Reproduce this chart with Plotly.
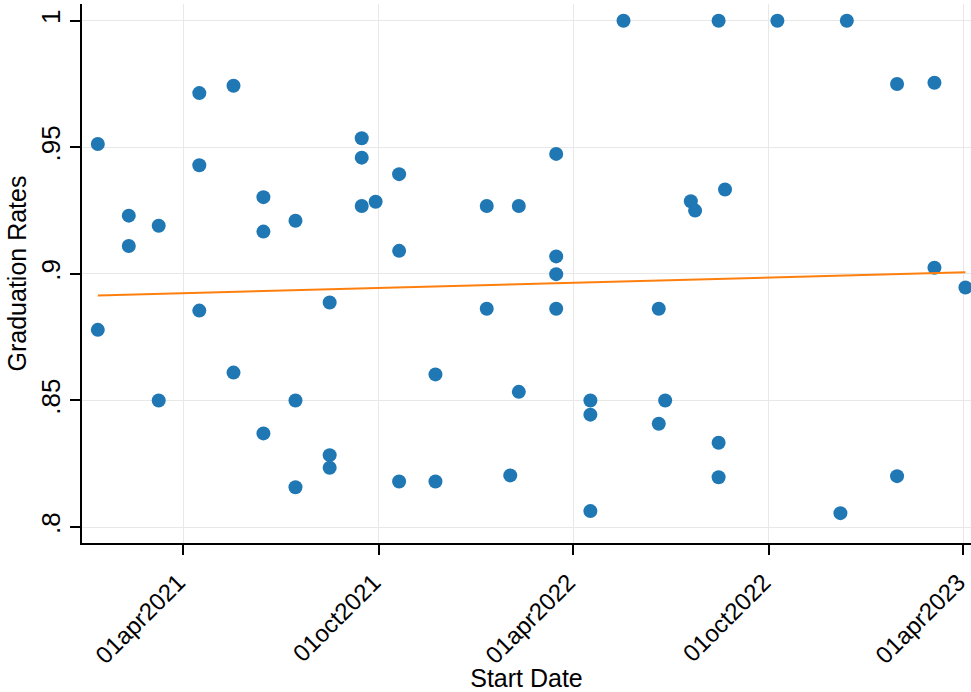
import plotly.graph_objects as go

start_dates = [
    "2021-01-11", "2021-01-11", "2021-02-09", "2021-02-09", "2021-03-09", "2021-03-09",
    "2021-04-16", "2021-04-16", "2021-04-16", "2021-05-18", "2021-05-18",
    "2021-06-15", "2021-06-15", "2021-06-15", "2021-07-15", "2021-07-15", "2021-07-15",
    "2021-08-16", "2021-08-16", "2021-08-16", "2021-09-15", "2021-09-15", "2021-09-15",
    "2021-09-28", "2021-10-20", "2021-10-20", "2021-10-20", "2021-11-23", "2021-11-23",
    "2022-01-10", "2022-01-10", "2022-02-01", "2022-02-09", "2022-02-09",
    "2022-03-16", "2022-03-16", "2022-03-16", "2022-03-16",
    "2022-04-17", "2022-04-17", "2022-04-17", "2022-05-18",
    "2022-06-20", "2022-06-26", "2022-06-20", "2022-07-20", "2022-07-24",
    "2022-08-15", "2022-08-15", "2022-08-15", "2022-08-21",
    "2022-10-09", "2022-12-13", "2022-12-07",
    "2023-01-29", "2023-01-29", "2023-03-05", "2023-03-05", "2023-04-03",
]
grad_rates = [
    0.9513, 0.8779, 0.923, 0.911, 0.919, 0.85,
    0.9714, 0.9429, 0.8855, 0.9743, 0.861,
    0.9303, 0.9167, 0.837, 0.921, 0.85, 0.8157,
    0.8887, 0.8284, 0.8234, 0.9536, 0.9459, 0.9268,
    0.9285, 0.9394, 0.9091, 0.818, 0.8603, 0.818,
    0.9268, 0.8862, 0.8204, 0.9268, 0.8534,
    0.9474, 0.9069, 0.8999, 0.8862,
    0.85, 0.8444, 0.8063, 1.0,
    0.8862, 0.85, 0.8408, 0.9287, 0.925,
    1.0, 0.8333, 0.8197, 0.9333,
    1.0, 1.0, 0.8055,
    0.975, 0.8201, 0.9755, 0.9024, 0.8946,
]

fit_dates = ["2021-01-11", "2023-04-03"]
fit_values = [0.8915, 0.9006]

x_tick_vals = ["2021-04-01", "2021-10-01", "2022-04-01", "2022-10-01", "2023-04-01"]
x_tick_text = ["01apr2021", "01oct2021", "01apr2022", "01oct2022", "01apr2023"]
y_tick_vals = [0.8, 0.85, 0.9, 0.95, 1.0]
y_tick_text = [".8", ".85", ".9", ".95", "1"]

FONT = "Liberation Sans, Arial, sans-serif"

fig = go.Figure()
fig.add_trace(go.Scatter(
    x=start_dates, y=grad_rates, mode="markers",
    marker=dict(size=14, color="#1f77b4", line=dict(width=0)),
    showlegend=False, cliponaxis=True,
))
fig.add_trace(go.Scatter(
    x=fit_dates, y=fit_values, mode="lines",
    line=dict(color="#ff7f0e", width=2),
    showlegend=False,
))

fig.update_layout(
    width=971, height=692,
    margin=dict(l=82, r=0, t=4, b=149),
    paper_bgcolor="white", plot_bgcolor="white",
    font=dict(family=FONT, size=25, color="black"),
)
fig.update_xaxes(
    automargin=False,
    range=["2020-12-27 05:00", "2023-04-08 05:00"],
    tickmode="array", tickvals=x_tick_vals, ticktext=x_tick_text,
    tickangle=-45, ticks="outside", ticklen=10, tickwidth=1.5, tickcolor="black",
    ticklabeloverflow="allow", ticklabelshift=-5, ticklabelstandoff=4,
    showline=True, linecolor="black", linewidth=1.5,
    showgrid=True, gridcolor="#e8e8e8", gridwidth=1,
    zeroline=False,
    tickfont=dict(family=FONT, size=24, color="black"),
    title=dict(text="Start Date", font=dict(family=FONT, size=25, color="black"), standoff=2),
)
fig.update_yaxes(
    automargin=False,
    range=[0.7937, 1.0066],
    tickmode="array", tickvals=y_tick_vals, ticktext=y_tick_text,
    tickangle=-90, ticks="outside", ticklen=10, tickwidth=1.5, tickcolor="black",
    ticklabeloverflow="allow",
    showline=True, linecolor="black", linewidth=1.5,
    showgrid=True, gridcolor="#e8e8e8", gridwidth=1,
    zeroline=False,
    tickfont=dict(family=FONT, size=26, color="black"),
    title=dict(text="Graduation Rates", font=dict(family=FONT, size=25, color="black"), standoff=2),
)

fig.write_html(
    "out.html",
    config={"displayModeBar": False},
    post_script="document.body.style.margin='0';document.body.style.overflow='hidden';",
)
